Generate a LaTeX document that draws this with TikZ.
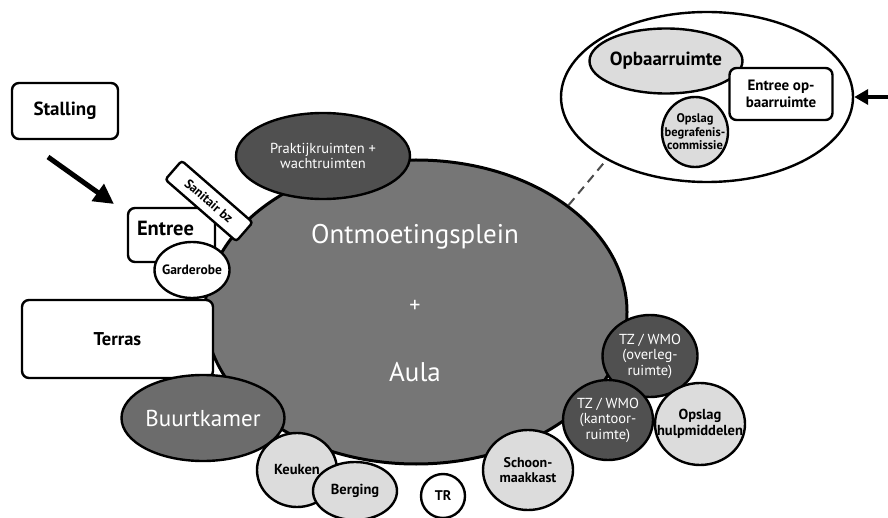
\documentclass[tikz,border=0pt]{standalone}
\usepackage{fontspec}
\setmainfont{PT Sans}
\usetikzlibrary{arrows.meta, shapes.geometric}

\definecolor{pleingray}{RGB}{118,118,118}
\definecolor{darkroom}{RGB}{80,80,80}
\definecolor{midroom}{RGB}{108,108,108}
\definecolor{lightroom}{RGB}{220,220,220}

\begin{document}
\begin{tikzpicture}[x=1pt, y=-1pt,
        every node/.style={inner sep=0pt, align=center},
        blob/.style={ellipse, draw=black, line width=2.4pt},
        darkblob/.style={blob, fill=darkroom},
        lightblob/.style={blob, fill=lightroom},
        whiteblob/.style={blob, fill=white},
        roombox/.style={draw=black, line width=2.4pt, rounded corners=7pt, fill=white},
        whitelabel/.style={text=white, font=\fontsize{14.5}{15.5}\selectfont},
        boldlabel/.style={font=\bfseries\fontsize{14}{15}\selectfont}]
    \useasboundingbox (0,0) rectangle (888,518);

    \node (uitvaart) at (707,97) [whiteblob, minimum width=292, minimum height=170] {};

    \node (opbaar) at (666,61) [lightblob, minimum width=153, minimum height=65,
        label={[font=\bfseries\fontsize{19}{19}\selectfont]center:Opbaarruimte}] {};

    \node (begrafenis) at (695,132) [lightblob, minimum width=66, minimum height=70,
        label={[font=\bfseries\fontsize{12.5}{13.5}\selectfont]center:{Opslag\\begrafenis-\\commissie}}] {};

    \node (entreeop) at (781,94) [roombox, minimum width=103, minimum height=52,
        font=\bfseries\fontsize{15}{17}\selectfont] {Entree op-\\baarruimte};

    \coordinate (rechtsin) at (892,97);

    \draw[line width=4pt, -{Triangle[length=14pt, width=15pt]}] (rechtsin) -- (uitvaart.east);

    \node (stalling) at (65,111) [roombox, minimum width=106, minimum height=56,
        font=\bfseries\fontsize{19}{19}\selectfont] {Stalling};

    \coordinate (pijlstart) at (48,157);

    \coordinate (pijleind) at (114,204);

    \draw[line width=5pt, -{Triangle[length=20pt, width=20pt]}] (pijlstart) -- (pijleind);

    \node (plein) at (416,312) [blob, fill=pleingray, line width=3pt, minimum width=422, minimum height=304] {};

    \node (pleintitel) at (415,237) [text=white, font=\fontsize{27}{27}\selectfont] {Ontmoetingsplein};

    \node (pleinplus) at (415,306) [text=white, font=\fontsize{22}{22}\selectfont] {+};

    \node (aula) at (415,372) [text=white, font=\fontsize{27}{27}\selectfont] {Aula};

    \draw[dashed, dash pattern=on 9pt off 6pt, line width=2pt, black!70] (plein.35) -- (uitvaart.212);

    \node (praktijk) at (323,156) [darkblob, minimum width=174, minimum height=86,
        label={[whitelabel]center:{Praktijkruimten +\\wachtruimten}}] {};

    \node (entree) at (171.5,235) [roombox, minimum width=87, minimum height=54,
        text width=69pt, text height=24pt, text depth=22pt, inner xsep=9pt, inner ysep=4pt,
        align=left, font=\bfseries\fontsize{20.5}{20.5}\selectfont] {Entree};

    \node (sanitair) at (209,201) [roombox, rounded corners=3pt, rotate=-41, minimum width=94,
        minimum height=25, font=\bfseries\fontsize{13}{13}\selectfont] {Sanitair bz};

    \node (garderobe) at (192,270) [whiteblob, minimum width=75, minimum height=56,
        label={[font=\bfseries\fontsize{13.5}{13.5}\selectfont]center:Garderobe}] {};

    \node (terras) at (117.5,339) [roombox, minimum width=191, minimum height=78,
        font=\bfseries\fontsize{18.5}{18.5}\selectfont] {Terras};

    \node (buurtkamer) at (203,418) [blob, fill=midroom, minimum width=163, minimum height=86,
        label={[text=white, font=\fontsize{23}{23}\selectfont]center:Buurtkamer}] {};

    \node (keuken) at (297,470) [lightblob, minimum width=80, minimum height=74,
        label={[font=\bfseries\fontsize{14.5}{15}\selectfont]center:Keuken}] {};

    \node (berging) at (355,491) [lightblob, minimum width=84, minimum height=58,
        label={[font=\bfseries\fontsize{14.5}{15}\selectfont]center:Berging}] {};

    \node (tr) at (443,496) [whiteblob, minimum width=44, minimum height=44,
        label={[boldlabel]center:TR}] {};

    \node (schoonmaak) at (528,470) [lightblob, minimum width=90, minimum height=80,
        label={[boldlabel]center:{Schoon-\\maakkast}}] {};

    \node (overleg) at (650,356) [darkblob, minimum width=95, minimum height=82,
        label={[whitelabel]center:{TZ / WMO\\(overleg-\\ruimte)}}] {};

    \node (kantoor) at (608,420) [darkblob, minimum width=90, minimum height=80,
        label={[whitelabel]center:{TZ / WMO\\(kantoor-\\ruimte)}}] {};

    \node (hulpmiddelen) at (700,424) [lightblob, minimum width=90, minimum height=82,
        label={[font=\bfseries\fontsize{14.5}{16}\selectfont]center:{Opslag\\hulpmiddelen}}] {};
\end{tikzpicture}
\end{document}
